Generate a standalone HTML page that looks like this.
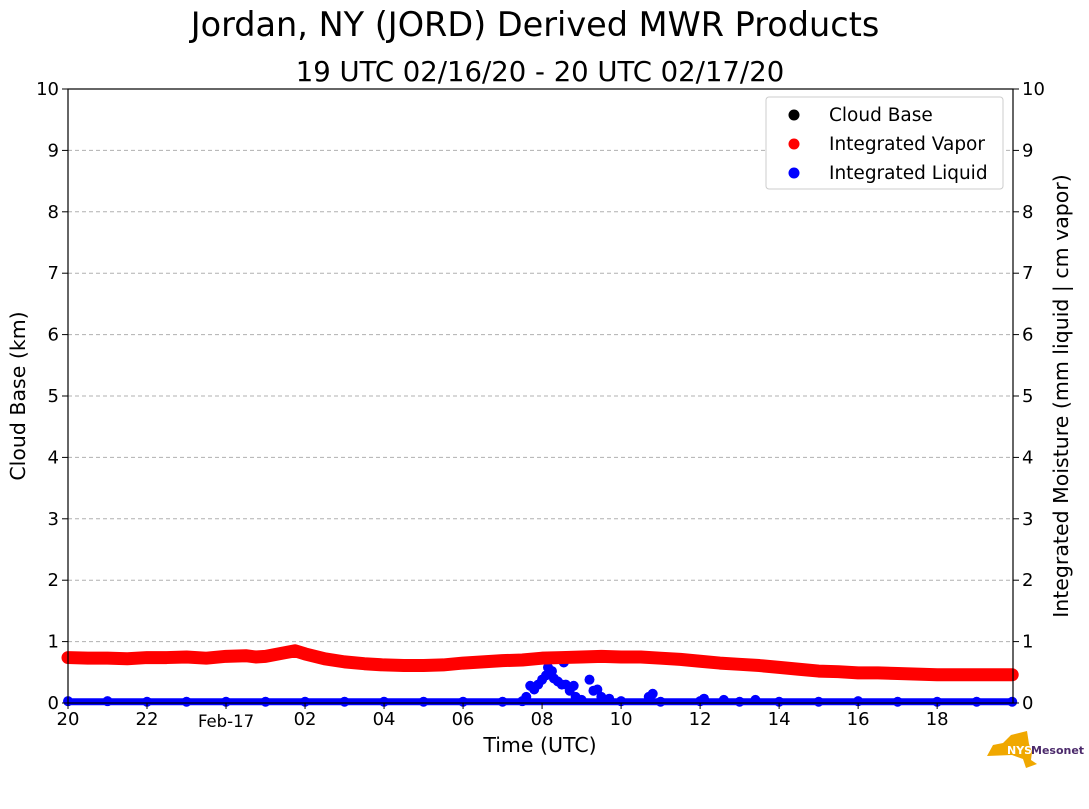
<!DOCTYPE html>
<html><head><meta charset="utf-8"><style>
body{margin:0;background:#fff;}
svg text{font-family:"DejaVu Sans","Liberation Sans",sans-serif;}
</style></head><body>
<svg id="chart" width="1089" height="804" xmlns="http://www.w3.org/2000/svg">
<text x="535" y="36" font-size="33.5" text-anchor="middle">Jordan, NY (JORD) Derived MWR Products</text>
<text x="540" y="81" font-size="27.5" text-anchor="middle">19 UTC 02/16/20 - 20 UTC 02/17/20</text>
<g id="grid"></g>
<g id="series"></g>
<rect x="68" y="89" width="945" height="614" fill="none" stroke="#000" stroke-width="1.2"/>
<g id="axes"></g>
<text transform="translate(25,396) rotate(-90)" font-size="20.5" text-anchor="middle">Cloud Base (km)</text>
<text transform="translate(1068,396) rotate(-90)" font-size="20.5" text-anchor="middle">Integrated Moisture (mm liquid | cm vapor)</text>
<text x="540" y="752" font-size="20.5" text-anchor="middle">Time (UTC)</text>
<g>
<rect x="766" y="97" width="237" height="92" rx="3" fill="#fff" stroke="#ccc"/>
<circle cx="794" cy="115" r="5.5" fill="#000"/>
<text x="829" y="121" font-size="18.5">Cloud Base</text>
<circle cx="794" cy="144" r="5.5" fill="#f00"/>
<text x="829" y="150" font-size="18.5">Integrated Vapor</text>
<circle cx="794" cy="173" r="5.5" fill="#00f"/>
<text x="829" y="179" font-size="18.5">Integrated Liquid</text>
</g>
<g>
<path d="M993,745 L1003,743 L1008,738 L1011,735 L1027,731 L1029,744 L1032,752 L1031,760 L1037,764 L1026,768 L1023,759 L1012,755 L987,756 Z" fill="#f0a800"/>
<text x="1007" y="754" font-size="11" font-weight="bold" fill="#fff">NYS</text>
<text x="1031" y="754" font-size="11" font-weight="bold" fill="#4b2a6b">Mesonet</text>
</g>
</svg>
<script>
// hours since 20 UTC 02/16
const vaporTimes=[0,0.5,1,1.5,2,2.5,3,3.5,4,4.5,4.75,5,5.5,5.75,6,6.5,7,7.5,8,8.5,9,9.5,10,10.5,11,11.5,12,12.5,13,13.5,14,14.5,15,15.5,16,16.5,17,17.5,18,18.5,19,19.5,20,20.5,21,21.5,22,22.5,23,23.5,23.9];
const vaporValues=[0.74,0.73,0.73,0.72,0.74,0.74,0.75,0.73,0.76,0.77,0.75,0.76,0.82,0.85,0.80,0.72,0.67,0.64,0.62,0.61,0.61,0.62,0.65,0.67,0.69,0.70,0.73,0.74,0.75,0.76,0.75,0.75,0.73,0.71,0.68,0.65,0.63,0.61,0.58,0.55,0.52,0.51,0.49,0.49,0.48,0.47,0.46,0.46,0.46,0.46,0.46];
const liquidTimes=[0,1,2,3,4,5,6,7,8,9,10,11,11.5,11.6,11.7,11.8,11.9,12.0,12.1,12.15,12.25,12.3,12.4,12.5,12.55,12.6,12.7,12.8,12.85,12.9,13.0,13.2,13.3,13.4,13.5,13.7,14,14.7,14.8,15,16,16.1,16.6,17,17.4,18,19,20,21,22,23,23.9];
const liquidValues=[0.03,0.03,0.02,0.02,0.02,0.02,0.02,0.02,0.02,0.02,0.02,0.02,0.03,0.1,0.28,0.22,0.3,0.38,0.45,0.58,0.52,0.4,0.35,0.3,0.66,0.3,0.2,0.28,0.1,0.05,0.05,0.38,0.2,0.22,0.1,0.07,0.03,0.1,0.15,0.02,0.03,0.07,0.05,0.02,0.05,0.02,0.02,0.03,0.02,0.02,0.02,0.02];
const yTicks=[0,1,2,3,4,5,6,7,8,9,10];
const xTickLabels=["20","22","Feb-17","02","04","06","08","10","12","14","16","18"];
const xTickHours=[0,2,4,6,8,10,12,14,16,18,20,22];
const X0=68,X1=1013,Y0=703,Y1=89,HMAX=23.92;
const xs=h=>X0+h/HMAX*(X1-X0);
const ys=v=>Y0-v/10*(Y0-Y1);
const NS="http://www.w3.org/2000/svg";
function mk(t,a,p){const e=document.createElementNS(NS,t);for(const k in a)e.setAttribute(k,a[k]);p.appendChild(e);return e;}
const grid=document.getElementById('grid'),axes=document.getElementById('axes'),ser=document.getElementById('series');
yTicks.forEach(v=>{
 if(v>0&&v<10){const l=mk('line',{x1:X0,x2:X1,y1:ys(v),y2:ys(v),stroke:'#b0b0b0','stroke-dasharray':'4,3'},grid);
 
 }
 [[X0,-6,'end',-9],[X1,6,'start',9]].forEach(([x,d,a,o],i)=>{
  const t=mk('line',{x1:x,x2:x+d,y1:ys(v),y2:ys(v),stroke:'#000'},axes);
  
  
  const tx=mk('text',{x:x+o,y:ys(v)+6,'font-size':18,'text-anchor':a},axes);tx.textContent=v;
  
  
 });
});
xTickHours.forEach((h,i)=>{
 const t=mk('line',{x1:xs(h),x2:xs(h),y1:Y0,y2:Y0+6,stroke:'#000'},axes);
 
 
 const lab=xTickLabels[i];
 const tx=mk('text',{x:xs(h),y:lab.length>2?727:725,'font-size':lab.length>2?16.5:18,'text-anchor':'middle'},axes);tx.textContent=lab;
 
 
});
function series(ts,vs,color,name,r,line){
 if(line){const pl=mk('polyline',{points:ts.map((t,i)=>xs(t)+','+ys(vs[i])).join(' '),fill:'none',stroke:color,'stroke-width':line,'stroke-linejoin':'round','stroke-linecap':'round'},ser);
 
 }
 ts.forEach((t,i)=>{const c=mk('circle',{cx:xs(t),cy:ys(vs[i]),r:r,fill:color},ser);
 
 });
}
series(liquidTimes,liquidValues,'#00f','liquid',5,0);
const lb=mk('polyline',{points:liquidTimes.filter((t,i)=>liquidValues[i]<0.06).map(t=>xs(t)+','+ys(0.02)).join(' '),fill:'none',stroke:'#00f','stroke-width':7},ser);


series(vaporTimes,vaporValues,'#f00','vapor',6,13);
</script>
</body></html>
